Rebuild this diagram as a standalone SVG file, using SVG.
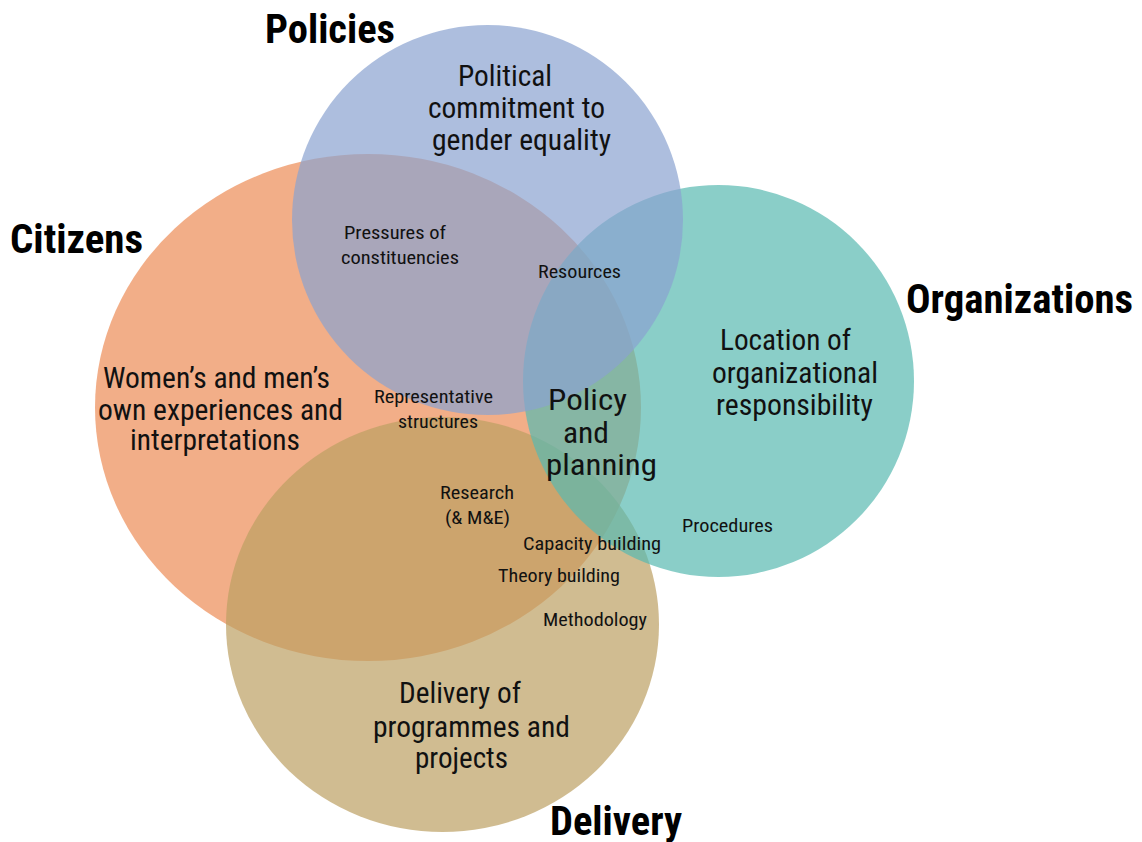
<svg xmlns="http://www.w3.org/2000/svg" width="1142" height="842" viewBox="0 0 1142 842">
<style>
text{font-family:"Roboto Condensed","Roboto","Liberation Sans",sans-serif;fill:#111}
.h{font-weight:bold;font-size:40px;fill:#000}
.m{font-size:29px}
.p{font-size:30px}
.s{font-size:19px}
.c{opacity:0.7}
</style>
<rect width="1142" height="842" fill="#fff"/>
<g id="citizens"><ellipse class="c" cx="368" cy="407.5" rx="273" ry="253.5" fill="#EC8B55"/></g>
<g id="delivery"><ellipse class="c" cx="442.5" cy="624.5" rx="216.5" ry="207.5" fill="#BCA063"/></g>
<g id="organizations"><ellipse class="c" cx="718.5" cy="381" rx="195.5" ry="196" fill="#58B9B0"/></g>
<g id="policies"><ellipse class="c" cx="487.5" cy="220" rx="195.5" ry="195" fill="#8AA2D0"/></g>
<g id="connectors"></g>
<g id="labels">
<text class="h" x="265" y="43" textLength="130" lengthAdjust="spacingAndGlyphs">Policies</text>
<text class="h" x="10" y="253" textLength="133" lengthAdjust="spacingAndGlyphs">Citizens</text>
<text class="h" x="906" y="313" textLength="227" lengthAdjust="spacingAndGlyphs">Organizations</text>
<text class="h" x="550" y="835" textLength="132" lengthAdjust="spacingAndGlyphs">Delivery</text>

<text class="m" x="458" y="86" textLength="94" lengthAdjust="spacingAndGlyphs">Political</text>
<text class="m" x="428" y="118" textLength="177" lengthAdjust="spacingAndGlyphs">commitment to</text>
<text class="m" x="432" y="150" textLength="179" lengthAdjust="spacingAndGlyphs">gender equality</text>

<text class="m" x="720" y="350" textLength="131" lengthAdjust="spacingAndGlyphs">Location of</text>
<text class="m" x="712" y="383" textLength="166" lengthAdjust="spacingAndGlyphs">organizational</text>
<text class="m" x="716" y="415" textLength="157" lengthAdjust="spacingAndGlyphs">responsibility</text>

<text class="m" x="103" y="388" textLength="227" lengthAdjust="spacingAndGlyphs">Women’s and men’s</text>
<text class="m" x="98" y="420" textLength="245" lengthAdjust="spacingAndGlyphs">own experiences and</text>
<text class="m" x="130" y="450" textLength="170" lengthAdjust="spacingAndGlyphs">interpretations</text>

<text class="m" x="399" y="703" textLength="122" lengthAdjust="spacingAndGlyphs">Delivery of</text>
<text class="m" x="373" y="737" textLength="197" lengthAdjust="spacingAndGlyphs">programmes and</text>
<text class="m" x="415" y="768" textLength="93" lengthAdjust="spacingAndGlyphs">projects</text>

<text class="p" x="548" y="410" textLength="79" lengthAdjust="spacingAndGlyphs">Policy</text>
<text class="p" x="563" y="443" textLength="46" lengthAdjust="spacingAndGlyphs">and</text>
<text class="p" x="546" y="475" textLength="111" lengthAdjust="spacingAndGlyphs">planning</text>

<text class="s" x="344" y="239" textLength="102" lengthAdjust="spacingAndGlyphs">Pressures of</text>
<text class="s" x="341" y="264" textLength="118" lengthAdjust="spacingAndGlyphs">constituencies</text>
<text class="s" x="538" y="278" textLength="83" lengthAdjust="spacingAndGlyphs">Resources</text>
<text class="s" x="374" y="403" textLength="119" lengthAdjust="spacingAndGlyphs">Representative</text>
<text class="s" x="398" y="428" textLength="80" lengthAdjust="spacingAndGlyphs">structures</text>
<text class="s" x="440" y="499" textLength="74" lengthAdjust="spacingAndGlyphs">Research</text>
<text class="s" x="445" y="524" textLength="65" lengthAdjust="spacingAndGlyphs">(&amp; M&amp;E)</text>
<text class="s" x="523" y="550" textLength="138" lengthAdjust="spacingAndGlyphs">Capacity building</text>
<text class="s" x="498" y="582" textLength="122" lengthAdjust="spacingAndGlyphs">Theory building</text>
<text class="s" x="543" y="626" textLength="104" lengthAdjust="spacingAndGlyphs">Methodology</text>
<text class="s" x="682" y="532" textLength="91" lengthAdjust="spacingAndGlyphs">Procedures</text>
</g>
</svg>
